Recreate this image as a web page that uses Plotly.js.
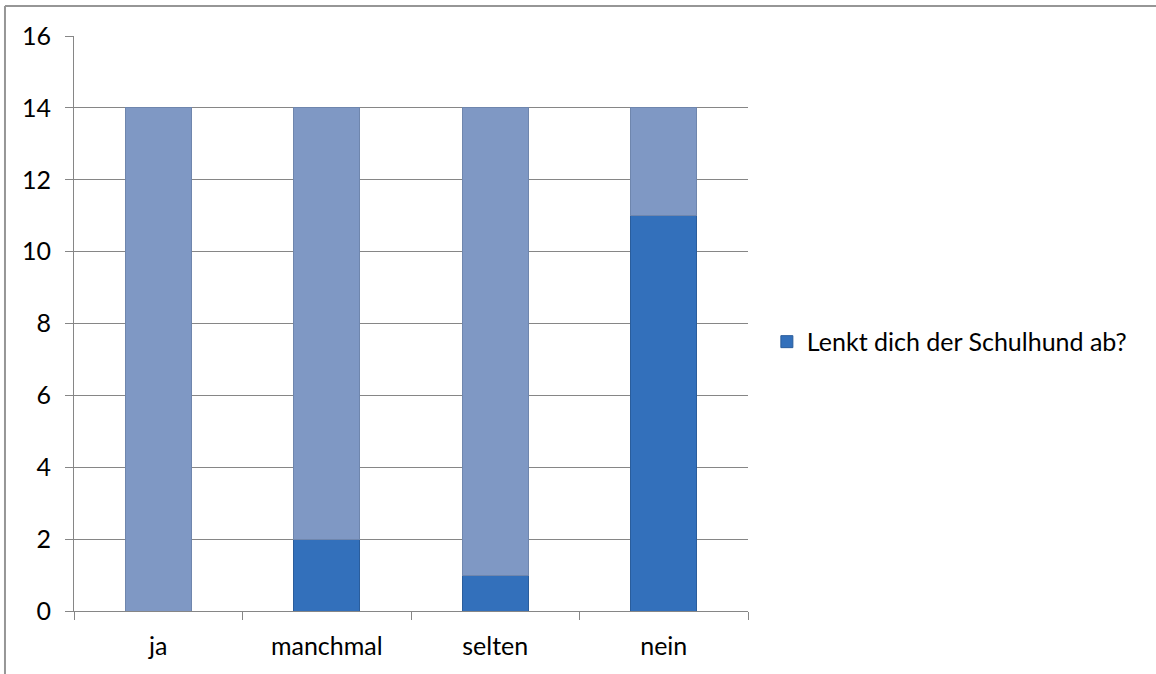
<!DOCTYPE html>
<html>
<head>
<meta charset="utf-8">
<script src="https://cdn.plot.ly/plotly-3.0.1.min.js"></script>
<style>html,body{margin:0;padding:0;background:#fff;}#chart{width:1156px;height:674px;}</style>
</head>
<body>
<div id="chart"></div>
<script>
const categories = ["ja", "manchmal", "selten", "nein"];
const seriesName = "Lenkt dich der Schulhund ab?";
const seriesValues = [0, 2, 1, 11];
const remainderValues = [14, 12, 13, 3];
const yTickValues = [0, 2, 4, 6, 8, 10, 12, 14, 16];

const font = {family: "Lato, 'Open Sans', sans-serif", size: 25, color: "#000"};

const traces = [
  {
    type: "bar", x: categories, y: seriesValues, name: seriesName,
    marker: {color: "#3370bb", line: {color: "#2a5d9c", width: 1}},
    showlegend: true, hoverinfo: "x+y"
  },
  {
    type: "bar", x: categories, y: remainderValues, name: "Rest",
    marker: {color: "#7f98c4", line: {color: "#6f86ad", width: 1}},
    showlegend: false, hoverinfo: "x+y"
  }
];

const layout = {
  width: 1156, height: 674,
  margin: {l: 74, r: 408, t: 36, b: 63},
  paper_bgcolor: "#fff", plot_bgcolor: "#fff",
  barmode: "stack", bargap: 0.61,
  font: font,
  xaxis: {
    type: "category", tickson: "boundaries", ticks: "outside", ticklen: 8,
    tickcolor: "#868686", showline: true, linecolor: "#868686", linewidth: 1,
    showgrid: false, zeroline: false, tickfont: font, ticklabelstandoff: 13, fixedrange: true
  },
  yaxis: {
    range: [0, 16], tickvals: yTickValues, ticks: "outside", ticklen: 8,
    tickcolor: "#868686", showline: true, linecolor: "#868686", linewidth: 1,
    showgrid: true, gridcolor: "#868686", gridwidth: 1, zeroline: false,
    tickfont: font, ticklabelstandoff: 9, fixedrange: true
  },
  legend: {
    x: 1.028, y: 0.468, xanchor: "left", yanchor: "middle",
    font: font, bgcolor: "rgba(0,0,0,0)", itemwidth: 30
  },
  shapes: [
    {type: "line", xref: "paper", yref: "paper", x0: -0.1024, x1: 1.7, y0: 1.0522, y1: 1.0522, line: {color: "#969696", width: 2}},
    {type: "line", xref: "paper", yref: "paper", x0: -0.1024, x1: -0.1024, y0: 1.0522, y1: -0.12, line: {color: "#969696", width: 2}}
  ]
};

Plotly.newPlot("chart", traces, layout, {displayModeBar: false, staticPlot: true});
</script>
</body>
</html>
